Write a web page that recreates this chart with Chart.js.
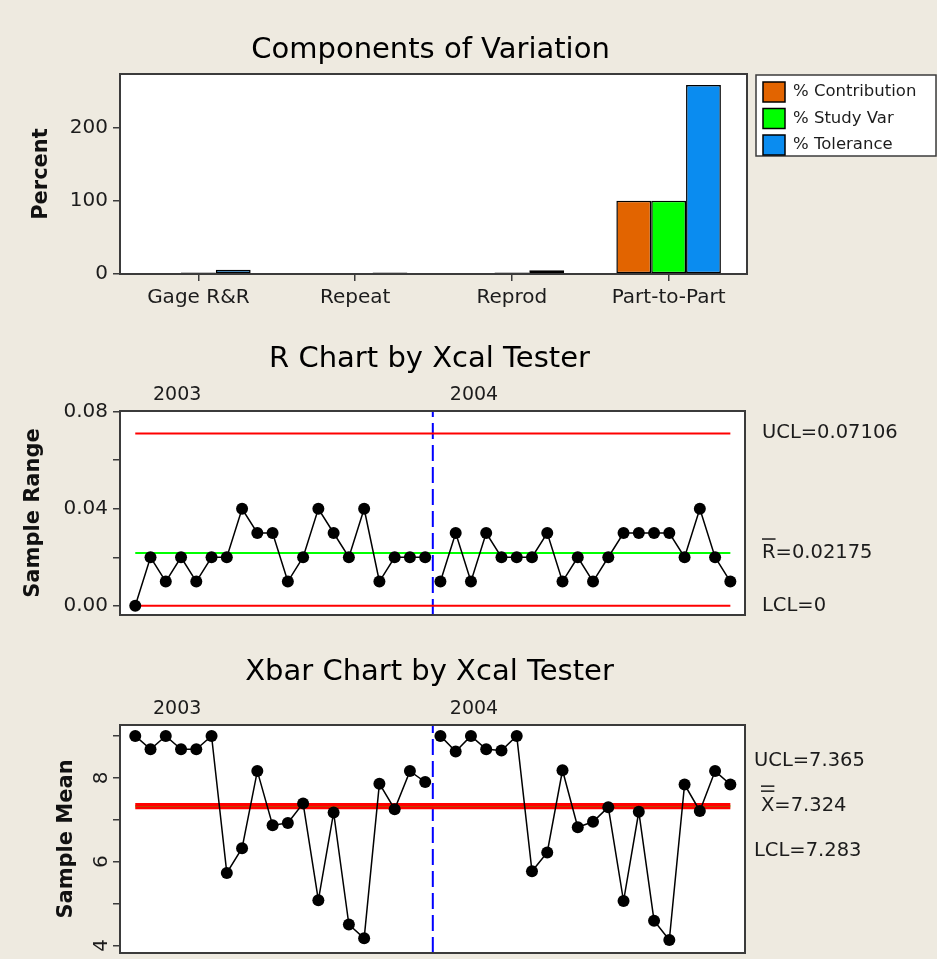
<!DOCTYPE html>
<html>
<head>
<meta charset="utf-8">
<script src="https://cdn.jsdelivr.net/npm/chart.js@4.4.1/dist/chart.umd.min.js"></script>
<style>
    html, body { margin: 0; padding: 0; background: #eeeae0; overflow: hidden; }
    #wrap { position: relative; width: 937px; height: 959px; }
    canvas { position: absolute; left: 0; display: block; }
</style>
</head>
<body>
<div id="wrap">
    <canvas id="cov" width="937" height="325" style="top:0"></canvas>
    <canvas id="rchart" width="937" height="310" style="top:325px"></canvas>
    <canvas id="xbar" width="937" height="324" style="top:635px"></canvas>
</div>
<script>
// components of variation
const components = ['Gage R&R', 'Repeat', 'Reprod', 'Part-to-Part'];
const pctContribution = [0.05, 0.006, 0.04, 99.95];
const pctStudyVar = [2.2, 0.8, 2.0, 100];
const pctTolerance = [5.7, 2.1, 5.2, 258];
const percentTicks = [0, 100, 200];

// stages (Xcal Tester)
const stages = ['2003', '2004'];

// R chart
const range2003 = [0.00, 0.02, 0.01, 0.02, 0.01, 0.02, 0.02, 0.04, 0.03, 0.03, 0.01, 0.02, 0.04, 0.03, 0.02, 0.04, 0.01, 0.02, 0.02, 0.02];
const range2004 = [0.01, 0.03, 0.01, 0.03, 0.02, 0.02, 0.02, 0.03, 0.01, 0.02, 0.01, 0.02, 0.03, 0.03, 0.03, 0.03, 0.02, 0.04, 0.02, 0.01];
const rUCL = 0.07106;
const rBar = 0.02175;
const rLCL = 0;
const rTickValues = [0, 0.02, 0.04, 0.06, 0.08];
const rTickLabels = ['0.00', '', '0.04', '', '0.08'];

// Xbar chart
const mean2003 = [9.0, 8.68, 9.0, 8.68, 8.68, 9.0, 5.73, 6.32, 8.16, 6.87, 6.92, 7.39, 5.08, 7.17, 4.50, 4.17, 7.86, 7.25, 8.16, 7.90];
const mean2004 = [9.0, 8.63, 9.0, 8.68, 8.65, 9.0, 5.77, 6.22, 8.18, 6.82, 6.95, 7.30, 5.06, 7.19, 4.59, 4.13, 7.84, 7.21, 8.16, 7.84];
const xUCL = 7.365;
const xBar = 7.324;
const xLCL = 7.283;
const meanTickValues = [4, 5, 6, 7, 8, 9];
const meanTickLabels = ['4', '', '6', '', '8', ''];

const fontFamily = '"DejaVu Sans", Verdana, sans-serif';
const frameColor = '#3b3b3b';
const textColor = '#1c1c1c';

const plotFrame = {
    id: 'plotFrame',
    beforeDraw(chart) {
        const { ctx, chartArea: a } = chart;
        ctx.save();
        ctx.fillStyle = '#ffffff';
        ctx.fillRect(a.left, a.top, a.right - a.left, a.bottom - a.top);
        ctx.restore();
    },
    afterDatasetsDraw(chart) {
        const { ctx, chartArea: a } = chart;
        ctx.save();
        ctx.strokeStyle = frameColor;
        ctx.lineWidth = 2;
        ctx.strokeRect(a.left, a.top, a.right - a.left, a.bottom - a.top);
        ctx.restore();
    },
};

const panelTitle = {
    id: 'panelTitle',
    afterDraw(chart, args, opts) {
        const { ctx, chartArea: a } = chart;
        ctx.save();
        ctx.font = `29px ${fontFamily}`;
        ctx.fillStyle = '#000';
        ctx.textAlign = 'center';
        ctx.textBaseline = 'alphabetic';
        ctx.fillText(opts.text, (a.left + a.right) / 2 - 3, opts.baseline);
        ctx.restore();
    },
};

const boxedLegend = {
    id: 'boxedLegend',
    afterDraw(chart) {
        const { ctx, chartArea: a } = chart;
        const x = a.right + 9;
        const y = 75;
        ctx.save();
        ctx.fillStyle = '#ffffff';
        ctx.fillRect(x, y, 180, 81);
        ctx.strokeStyle = frameColor;
        ctx.lineWidth = 1.5;
        ctx.strokeRect(x, y, 180, 81);
        ctx.font = `16.5px ${fontFamily}`;
        ctx.textBaseline = 'middle';
        ctx.textAlign = 'left';
        chart.data.datasets.forEach((ds, i) => {
            const sy = y + 7 + i * 26.5;
            ctx.fillStyle = ds.backgroundColor;
            ctx.fillRect(x + 7, sy, 22, 20);
            ctx.strokeStyle = '#000';
            ctx.strokeRect(x + 7, sy, 22, 20);
            ctx.fillStyle = textColor;
            ctx.fillText(ds.label, x + 37, sy + 10);
        });
        ctx.restore();
    },
};

const controlNotes = {
    id: 'controlNotes',
    afterDraw(chart, args, opts) {
        const { ctx, chartArea: a, scales: { x, y } } = chart;
        ctx.save();
        ctx.fillStyle = textColor;
        ctx.font = `19px ${fontFamily}`;
        ctx.textAlign = 'left';
        ctx.textBaseline = 'alphabetic';
        const divider = x.getPixelForValue(opts.divider);
        ctx.fillText(opts.stages[0], a.left + 33, a.top - 11);
        ctx.fillText(opts.stages[1], divider + 17, a.top - 11);

        ctx.font = `19.5px ${fontFamily}`;
        ctx.textBaseline = 'middle';
        const pc = y.getPixelForValue(opts.cl);
        const pu = Math.min(y.getPixelForValue(opts.ucl), pc - 45);
        const pl = Math.max(y.getPixelForValue(opts.lcl), pc + 45);
        const lx = a.right + opts.labelGap;
        ctx.fillText(opts.uclText, lx, pu);
        ctx.fillText(opts.lclText, lx, pl);
        const cx = lx + opts.clIndent;
        ctx.fillText(opts.clText, cx, pc);
        const w = ctx.measureText(opts.clText[0]).width;
        ctx.strokeStyle = textColor;
        ctx.lineWidth = 1.5;
        for (let k = 0; k < opts.bars; k++) {
            const by = pc - opts.barOffset - 5 * k;
            ctx.beginPath();
            ctx.moveTo(cx, by);
            ctx.lineTo(cx + w, by);
            ctx.stroke();
        }
        ctx.restore();
    },
};

function tickFont(size = 20) {
    return { family: fontFamily, size };
}

function axisTitle(text, pad) {
    return {
        display: true,
        text,
        color: '#111',
        font: { family: fontFamily, size: 21, weight: 'bold' },
        padding: { top: pad, bottom: 0 },
    };
}

// top panel: components of variation
new Chart(document.getElementById('cov'), {
    type: 'bar',
    data: {
        labels: components,
        datasets: [
            { label: '% Contribution', data: pctContribution, backgroundColor: '#e26400' },
            { label: '% Study Var', data: pctStudyVar, backgroundColor: '#00ff00' },
            { label: '% Tolerance', data: pctTolerance, backgroundColor: '#0a8cf0' },
        ].map((ds) => ({
            ...ds,
            borderColor: '#000',
            borderWidth: 1.5,
            borderSkipped: false,
            categoryPercentage: 0.667,
            barPercentage: 1,
        })),
    },
    options: {
        responsive: false,
        animation: false,
        events: [],
        layout: { padding: { left: 0, right: 190, top: 74, bottom: 11 } },
        plugins: {
            legend: { display: false },
            tooltip: { enabled: false },
            panelTitle: { text: 'Components of Variation', baseline: 58 },
        },
        scales: {
            x: {
                grid: { offset: false, drawOnChartArea: false, tickLength: 7, color: frameColor, lineWidth: 1.5 },
                border: { display: false },
                ticks: { font: tickFont(20), color: textColor, padding: 5, maxRotation: 0 },
                afterFit: (s) => { s.height = 40; s.paddingLeft = 0; s.paddingRight = 0; },
            },
            y: {
                min: 0,
                max: 273,
                afterBuildTicks: (s) => { s.ticks = percentTicks.map((v) => ({ value: v })); },
                grid: { drawOnChartArea: false, tickLength: 7, color: frameColor, lineWidth: 1.5 },
                border: { display: false },
                ticks: { font: tickFont(20), color: textColor, padding: 5 },
                title: axisTitle('Percent', 28.5),
                afterFit: (s) => { s.width = 120; s.paddingTop = 0; s.paddingBottom = 0; },
            },
        },
    },
    plugins: [plotFrame, panelTitle, boxedLegend],
});

function toPoints(values, start) {
    return values.map((v, i) => ({ x: start + i + 1, y: v }));
}

function makeControlChart(id, cfg) {
    const n = cfg.stageA.length + cfg.stageB.length;
    const divider = cfg.stageA.length + 0.5;
    const dataLine = {
        showLine: true,
        borderColor: '#000',
        borderWidth: 1.5,
        pointRadius: 6,
        pointBackgroundColor: '#000',
        pointBorderColor: '#000',
        pointBorderWidth: 0,
        tension: 0,
    };
    const limitLine = (value, color, width) => ({
        data: [{ x: 1, y: value }, { x: n, y: value }],
        showLine: true,
        borderColor: color,
        borderWidth: width,
        pointRadius: 0,
    });
    return new Chart(document.getElementById(id), {
        type: 'scatter',
        data: {
            datasets: [
                { ...dataLine, data: toPoints(cfg.stageA, 0) },
                { ...dataLine, data: toPoints(cfg.stageB, cfg.stageA.length) },
                limitLine(cfg.ucl, '#ff0000', cfg.limitWidth),
                limitLine(cfg.lcl, '#ff0000', cfg.limitWidth),
                limitLine(cfg.cl, '#00ff00', 2),
                {
                    data: [{ x: divider, y: cfg.yMin }, { x: divider, y: cfg.yMax }],
                    showLine: true,
                    borderColor: '#0000ff',
                    borderWidth: 2,
                    borderDash: [16, 6],
                    pointRadius: 0,
                },
            ],
        },
        options: {
            responsive: false,
            animation: false,
            events: [],
            layout: { padding: { left: 0, right: 192, top: cfg.padTop, bottom: cfg.padBottom } },
            plugins: {
                legend: { display: false },
                tooltip: { enabled: false },
                panelTitle: { text: cfg.title, baseline: cfg.titleBaseline },
                controlNotes: {
                    stages,
                    divider,
                    ucl: cfg.ucl,
                    cl: cfg.cl,
                    lcl: cfg.lcl,
                    uclText: cfg.uclText,
                    clText: cfg.clText,
                    lclText: cfg.lclText,
                    labelGap: cfg.labelGap,
                    clIndent: cfg.clIndent,
                    bars: cfg.bars,
                    barOffset: cfg.barOffset,
                },
            },
            scales: {
                x: { type: 'linear', display: false, min: 0, max: 40.96 },
                y: {
                    min: cfg.yMin,
                    max: cfg.yMax,
                    afterBuildTicks: (s) => { s.ticks = cfg.tickValues.map((v) => ({ value: v })); },
                    grid: { drawOnChartArea: false, tickLength: 7, color: frameColor, lineWidth: 1.5 },
                    border: { display: false },
                    ticks: {
                        font: tickFont(20),
                        color: textColor,
                        padding: cfg.tickPad,
                        minRotation: cfg.tickRotation,
                        maxRotation: cfg.tickRotation,
                        crossAlign: cfg.tickRotation ? 'center' : 'near',
                        callback: (v, i) => cfg.tickLabels[i],
                    },
                    title: axisTitle(cfg.yTitle, cfg.titlePad),
                    afterFit: (s) => { s.width = 120; s.paddingTop = 0; s.paddingBottom = 0; },
                },
            },
        },
        plugins: [plotFrame, panelTitle, controlNotes],
    });
}

makeControlChart('rchart', {
    title: 'R Chart by Xcal Tester',
    titleBaseline: 41.7,
    stageA: range2003,
    stageB: range2004,
    ucl: rUCL,
    cl: rBar,
    lcl: rLCL,
    uclText: 'UCL=0.07106',
    clText: 'R=0.02175',
    lclText: 'LCL=0',
    labelGap: 17,
    clIndent: 0,
    bars: 1,
    barOffset: 14,
    limitWidth: 2,
    yMin: -0.0038,
    yMax: 0.0803,
    tickValues: rTickValues,
    tickLabels: rTickLabels,
    tickPad: 5,
    tickRotation: 0,
    yTitle: 'Sample Range',
    titlePad: 21.4,
    padTop: 86,
    padBottom: 20,
});

makeControlChart('xbar', {
    title: 'Xbar Chart by Xcal Tester',
    titleBaseline: 45,
    stageA: mean2003,
    stageB: mean2004,
    ucl: xUCL,
    cl: xBar,
    lcl: xLCL,
    uclText: 'UCL=7.365',
    clText: 'X=7.324',
    lclText: 'LCL=7.283',
    labelGap: 9,
    clIndent: 7,
    bars: 2,
    barOffset: 15,
    limitWidth: 3,
    yMin: 3.82,
    yMax: 9.26,
    tickValues: meanTickValues,
    tickLabels: meanTickLabels,
    tickPad: 5,
    tickRotation: 90,
    yTitle: 'Sample Mean',
    titlePad: 54.4,
    padTop: 90,
    padBottom: 4,
});
</script>
</body>
</html>
